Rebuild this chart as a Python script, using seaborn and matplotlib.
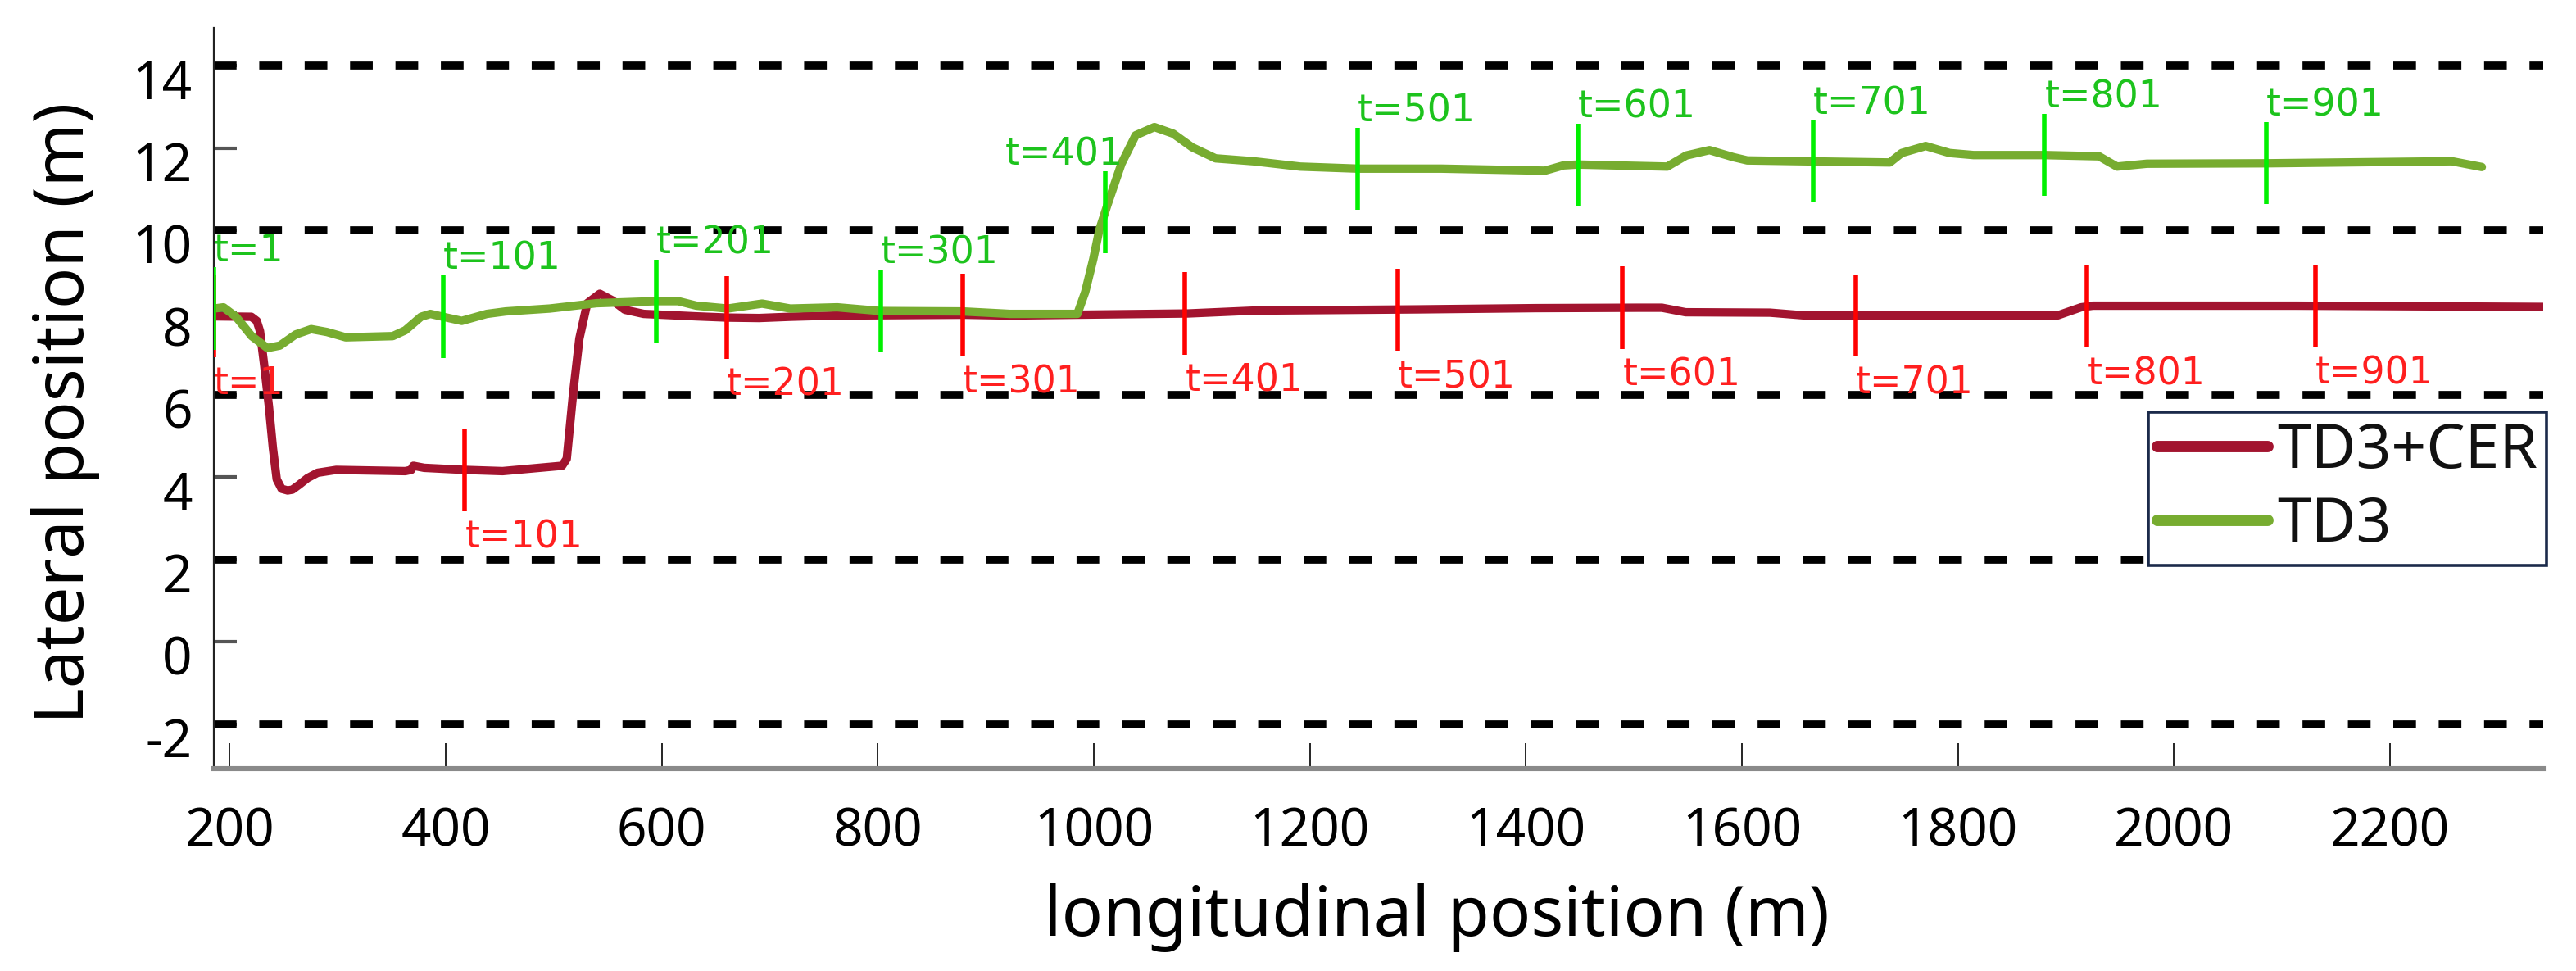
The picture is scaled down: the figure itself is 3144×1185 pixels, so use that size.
import numpy as np
import pandas as pd
import matplotlib
matplotlib.use("Agg")
import matplotlib.pyplot as plt
import matplotlib.transforms as mtransforms
from matplotlib.lines import Line2D
import seaborn as sns

# ---------------- data ----------------
cer_x = [185.4, 220, 225, 228, 232, 236.3, 240, 243.5, 248, 253.6, 258, 263.8, 272,
         281.3, 298.6, 362.5, 368, 370, 380, 417.7, 452.6, 507.7, 512, 517.9, 523.7,
         531, 542.6, 554.2, 565.8, 583.2, 632, 661, 690, 719, 760, 880, 922, 985,
         1087, 1148, 1300, 1409, 1504, 1526, 1548, 1626, 1659, 1892, 1914, 1925,
         2113, 2342]
cer_y = [7.91, 7.90, 7.80, 7.55, 6.70, 5.71, 4.70, 3.95, 3.72, 3.68, 3.70, 3.81, 3.98,
         4.11, 4.18, 4.15, 4.18, 4.28, 4.23, 4.18, 4.15, 4.28, 4.45, 6.04, 7.37,
         8.23, 8.46, 8.30, 8.07, 7.97, 7.91, 7.88, 7.87, 7.90, 7.93, 7.95, 7.93, 7.95,
         7.98, 8.05, 8.08, 8.11, 8.12, 8.12, 8.01, 8.00, 7.93, 7.93, 8.13, 8.17,
         8.17, 8.14]

td3_x = [185.4, 194.2, 205.8, 220.3, 234.8, 246.4, 261, 275.4, 290, 307.4, 350.9,
         362.5, 377.1, 385.7, 397.4, 414.8, 438, 455.5, 496.1, 539.7, 594.8, 615.2,
         632, 661, 692.9, 719, 762.5, 802.6, 878.8, 922.3, 984.8, 992, 999.5, 1005,
         1012.6, 1025.6, 1038.7, 1056.1, 1073.5, 1091, 1112.7, 1147.6, 1191.1,
         1244.3, 1321.8, 1417.6, 1435, 1448, 1530.9, 1548.5, 1570, 1592, 1605,
         1656, 1737, 1748, 1770.2, 1792.3, 1814.5, 1880.3, 1930.7, 1947.3, 1975,
         2085.7, 2257.4, 2285.1]
td3_y = [8.10, 8.13, 7.90, 7.43, 7.14, 7.20, 7.47, 7.60, 7.53, 7.40, 7.43,
         7.57, 7.90, 7.97, 7.90, 7.80, 7.97, 8.03, 8.10, 8.23, 8.28, 8.28,
         8.17, 8.10, 8.22, 8.10, 8.13, 8.04, 8.03, 7.97, 7.97, 8.50, 9.30, 10.0,
         10.62, 11.62, 12.31, 12.51, 12.35, 12.02, 11.75, 11.68, 11.55,
         11.50, 11.50, 11.45, 11.58, 11.60, 11.55, 11.82, 11.95, 11.78, 11.70,
         11.68, 11.65, 11.88, 12.05, 11.88, 11.83, 11.83, 11.80, 11.55, 11.62,
         11.63, 11.68, 11.54]

# positions of the time-step markers along each trajectory
cer_mark_x = [185.4, 417.7, 660.1, 878.8, 1084.5, 1281.3, 1489.5, 1705.4, 1919.7, 2131]
td3_mark_x = [185.4, 397.4, 594.8, 802.6, 1010.4, 1244.3, 1448, 1666, 1880.3, 2085.7]
mark_labels = ["t=1", "t=101", "t=201", "t=301", "t=401",
               "t=501", "t=601", "t=701", "t=801", "t=901"]

lane_lines = [-2, 2, 6, 10, 14]
y_ticks = [-2, 0, 2, 4, 6, 8, 10, 12, 14]
x_ticks = [200, 400, 600, 800, 1000, 1200, 1400, 1600, 1800, 2000, 2200]

series_names = ["TD3+CER", "TD3"]
# ----------------------------------------------------------------

C_CER = "#A2142F"
C_TD3 = "#77AC30"
C_CER_MARK = "#FF0000"
C_TD3_MARK = "#00F000"
C_CER_TXT = "#FF1F1F"
C_TD3_TXT = "#1DC31D"

sns.set_style("white")
plt.rcParams["font.family"] = ["Noto Sans", "DejaVu Sans"]

DPI = 200
fig = plt.figure(figsize=(3144 / DPI, 1185 / DPI), dpi=DPI)
ax = fig.add_axes([0.0829, 0.2084, 0.9044, 0.7633])

df_cer = pd.DataFrame({"x": cer_x, "y": cer_y})
df_td3 = pd.DataFrame({"x": td3_x, "y": td3_y})

# lane boundary lines
for yv in lane_lines:
    ax.axhline(yv, color="black", lw=3.5, linestyle=(0, (2.85, 2.85)),
               dash_capstyle="butt", zorder=1)

sns.lineplot(data=df_cer, x="x", y="y", ax=ax, color=C_CER, lw=3.7,
             sort=False, estimator=None, zorder=2, legend=False)
sns.lineplot(data=df_td3, x="x", y="y", ax=ax, color=C_TD3, lw=3.7,
             sort=False, estimator=None, zorder=3, legend=False)

# time-step markers
cer_mark_y = np.interp(cer_mark_x, cer_x, cer_y)
td3_mark_y = np.interp(td3_mark_x, td3_x, td3_y)
ax.vlines(cer_mark_x, cer_mark_y - 1.0, cer_mark_y + 1.0, color=C_CER_MARK,
          lw=2.0, zorder=4)
ax.vlines(td3_mark_x, td3_mark_y - 1.0, td3_mark_y + 1.0, color=C_TD3_MARK,
          lw=2.0, zorder=5)
for xm, ym, lab in zip(cer_mark_x, cer_mark_y, mark_labels):
    ax.text(xm, ym - 1.2, lab, color=C_CER_TXT, fontsize=16.5,
            family=["DejaVu Sans"], ha="left", va="top", zorder=6)
for xm, ym, lab in zip(td3_mark_x, td3_mark_y, mark_labels):
    # the label on the steep lane change sits to the left of its marker
    steep = lab == "t=401"
    ax.text(xm, ym + 1.15, lab, color=C_TD3_TXT, fontsize=16.5,
            family=["DejaVu Sans"], ha="right" if steep else "left",
            va="baseline", zorder=6,
            transform=(ax.transData + mtransforms.ScaledTranslation(
                22 / DPI, 0, fig.dpi_scale_trans)) if steep else ax.transData)

ax.set_xlim(185, 2342)
ax.set_ylim(-3.08, 14.93)
ax.set_xticks(x_ticks)
ax.set_yticks(y_ticks)
ax.set_xticklabels([str(v) for v in x_ticks])
ax.set_yticklabels([str(v) for v in y_ticks])

for s in ["top", "right"]:
    ax.spines[s].set_visible(False)
ax.spines["left"].set_color("#222222")
ax.spines["left"].set_linewidth(0.8)
ax.spines["bottom"].set_color("#8a8a8a")
ax.spines["bottom"].set_linewidth(2.2)

ax.tick_params(axis="x", direction="in", length=11, width=0.6, color="black",
               labelsize=23, pad=16.5, bottom=True, labelcolor="black")
ax.tick_params(axis="y", direction="in", length=10, width=1.5, color="#555555",
               labelsize=23, pad=9.3, left=True, labelcolor="black")

ax.set_xlabel("longitudinal position (m)", fontsize=30, color="black")
ax.set_ylabel("Lateral position (m)", fontsize=30, color="black")
ax.xaxis.set_label_coords(0.525, -0.155)
ax.yaxis.set_label_coords(-0.0487, 0.48)

# y tick labels sit slightly below their ticks in the reference
offset = mtransforms.ScaledTranslation(0, -16 / DPI, fig.dpi_scale_trans)
for lab in ax.get_yticklabels():
    lab.set_transform(lab.get_transform() + offset)

handles = [Line2D([], [], color=C_CER, lw=5.0),
           Line2D([], [], color=C_TD3, lw=5.0)]
leg = ax.legend(handles, series_names, loc="upper right",
                bbox_to_anchor=(1.0015, 0.481), fontsize=27, frameon=True,
                fancybox=False, framealpha=1, edgecolor="#1B2A4A",
                handlelength=1.8, handletextpad=0.15, borderpad=0.15,
                labelspacing=0.2, borderaxespad=0.0)
leg.get_frame().set_linewidth(1.3)
for t in leg.get_texts():
    t.set_color("#111111")
leg.set_zorder(10)

fig.savefig("out.png", dpi=DPI, facecolor="white")
